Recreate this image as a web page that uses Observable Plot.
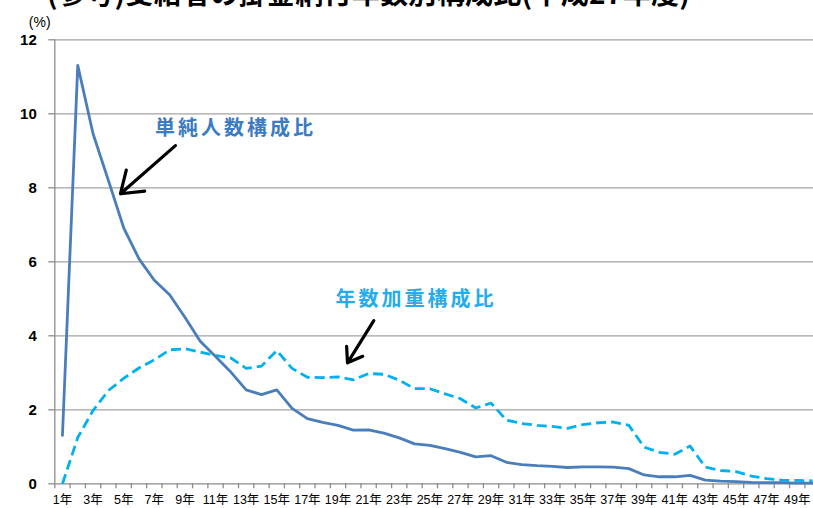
<!DOCTYPE html>
<html>
<head>
<meta charset="utf-8">
<script src="https://cdn.jsdelivr.net/npm/d3@7"></script>
<script src="https://cdn.jsdelivr.net/npm/@observablehq/plot@0.6"></script>
<style>
  html, body { margin: 0; padding: 0; background: #fff; overflow: hidden; }
  #wrap { position: relative; width: 813px; height: 508px; }
  #title {
    position: absolute; left: 47px; top: -28px; z-index: 2;
    font: 700 28px "Noto Sans CJK JP", sans-serif; letter-spacing: 0.3px; white-space: nowrap; color: #000;
  }
</style>
</head>
<body>
<div id="wrap"></div>
<script>
// 掛金納付年数 (years of contributions)
const years = [1, 2, 3, 4, 5, 6, 7, 8, 9, 10,
  11, 12, 13, 14, 15, 16, 17, 18, 19, 20,
  21, 22, 23, 24, 25, 26, 27, 28, 29, 30,
  31, 32, 33, 34, 35, 36, 37, 38, 39, 40,
  41, 42, 43, 44, 45, 46, 47, 48, 49, 50];

// 単純人数構成比 (%)
const headcountShare = [1.31, 11.31, 9.46, 8.2, 6.92, 6.08, 5.5, 5.11, 4.5, 3.85,
  3.44, 3.02, 2.54, 2.41, 2.54, 2.04, 1.76, 1.66, 1.58, 1.45,
  1.46, 1.37, 1.24, 1.08, 1.04, 0.95, 0.85, 0.73, 0.76, 0.58,
  0.52, 0.49, 0.47, 0.44, 0.46, 0.46, 0.45, 0.41, 0.24, 0.19,
  0.19, 0.23, 0.1, 0.07, 0.06, 0.04, 0.03, 0.03, 0.02, 0.02];

// 年数加重構成比 (%)
const weightedShare = [0, 1.25, 1.98, 2.52, 2.85, 3.13, 3.35, 3.62, 3.65, 3.56,
  3.47, 3.4, 3.12, 3.18, 3.6, 3.12, 2.88, 2.87, 2.89, 2.81,
  2.98, 2.96, 2.8, 2.57, 2.57, 2.43, 2.3, 2.05, 2.18, 1.72,
  1.63, 1.58, 1.55, 1.5, 1.6, 1.65, 1.67, 1.58, 0.99, 0.85,
  0.8, 1.02, 0.45, 0.36, 0.33, 0.21, 0.14, 0.1, 0.09, 0.08];

const seriesNames = ["単純人数構成比", "年数加重構成比"];
const yTicks = [0, 2, 4, 6, 8, 10, 12];
const labelYears = years.filter(y => y % 2 === 1);
const titleText = "(参考)受給者の掛金納付年数別構成比(平成27年度)";
const unitText = "(%)";

const rows = years.map((yr, i) => ({yr, headcount: headcountShare[i], weighted: weightedShare[i]}));
const boundaries = years.map(y => y - 0.5).concat([years.length + 0.5]);

// callouts placed in data units
const callouts = [
  {name: seriesNames[0], x: 12.3, y: 9.6, fill: "#3b7bc4"},
  {name: seriesNames[1], x: 24.1, y: 4.99, fill: "#25acea"}
];
const pointers = [
  {x1: 8.38, y1: 9.14, x2: 4.79, y2: 7.84},
  {x1: 21.34, y1: 4.41, x2: 19.62, y2: 3.27}
];

const blue = "#4a7ebb";
const cyan = "#00b0f0";
const axisGray = "#8c8c8c";

const chart = Plot.plot({
  width: 813,
  height: 508,
  marginLeft: 54.3,
  marginTop: 39.3,
  marginBottom: 24.7,
  marginRight: 0,
  style: {fontFamily: '"Liberation Sans", "Noto Sans CJK JP", sans-serif', background: "#fff", color: "#000"},
  x: {type: "linear", domain: [0.5, 50.5], range: [54.3, 819.7]},
  y: {domain: [0, 12], range: [483.3, 39.3]},
  marks: [
    Plot.ruleY(yTicks.filter(d => d > 0), {stroke: "#a3a3a3", strokeWidth: 1.3}),
    Plot.axisY({ticks: yTicks, tickSize: 6, tickPadding: 12, stroke: axisGray, strokeWidth: 1.3,
      fontSize: 15, fontWeight: "bold", tickFormat: d => String(d), label: null}),
    Plot.axisX({ticks: boundaries, tickSize: 5, stroke: axisGray, strokeWidth: 1.3, tickFormat: () => "", label: null}),
    Plot.axisX({ticks: labelYears, tickSize: 0, tickPadding: 11, fontSize: 12.5,
      tickFormat: d => `${d}年`, label: null}),
    Plot.ruleY([0], {stroke: axisGray, strokeWidth: 1.3}),
    Plot.ruleX([0.5], {stroke: axisGray, strokeWidth: 1.3}),
    Plot.line(rows, {x: "yr", y: "weighted", stroke: cyan, strokeWidth: 2.8,
      strokeDasharray: "10,5", strokeLinecap: "butt"}),
    Plot.line(rows, {x: "yr", y: "headcount", stroke: blue, strokeWidth: 2.8}),
    Plot.arrow(pointers, {x1: "x1", y1: "y1", x2: "x2", y2: "y2", stroke: "#000",
      strokeWidth: 3.2, headLength: 16, headAngle: 70}),
    Plot.text(callouts, {x: "x", y: "y", text: "name", fill: "fill", fontSize: 20,
      fontWeight: "bold", fontFamily: '"Noto Sans CJK JP", sans-serif'}),
    Plot.text([unitText], {frameAnchor: "top-left", text: d => d, dx: -26, dy: -23, fontSize: 14})
  ]
});

// widen the callout lettering
d3.select(chart).selectAll("text")
  .filter(function () { return seriesNames.includes(this.textContent); })
  .style("letter-spacing", "3px");

const wrap = document.getElementById("wrap");
wrap.appendChild(chart);
const title = document.createElement("div");
title.id = "title";
title.textContent = titleText;
wrap.appendChild(title);
</script>
</body>
</html>
